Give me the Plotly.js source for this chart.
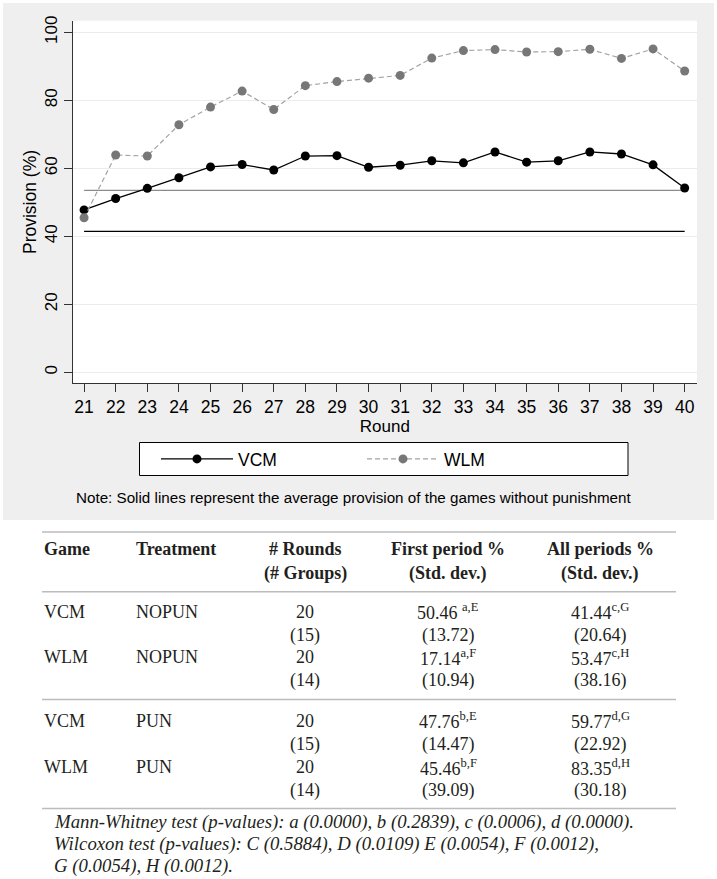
<!DOCTYPE html>
<html>
<head>
<meta charset="utf-8">
<script src="https://cdn.plot.ly/plotly-3.0.1.min.js"></script>
<style>
  html, body { margin: 0; padding: 0; background: #ffffff; }
  #chart { width: 717px; height: 879px; }
</style>
</head>
<body>
<div id="chart"></div>
<script>
// ---------------- data ----------------
var rounds = [21,22,23,24,25,26,27,28,29,30,31,32,33,34,35,36,37,38,39,40];
var vcmPun = [47.76,51.1,54.1,57.2,60.4,61.1,59.5,63.6,63.7,60.3,60.9,62.2,61.6,64.8,61.8,62.2,64.8,64.2,61.0,54.2];
var wlmPun = [45.46,63.9,63.6,72.8,78.0,82.7,77.3,84.3,85.5,86.5,87.3,92.4,94.6,94.9,94.2,94.3,95.0,92.3,95.1,88.6];
var yTicks = [0,20,40,60,80,100];

// table
var tableGame       = ['VCM','WLM','VCM','WLM'];
var tableTreatment  = ['NOPUN','NOPUN','PUN','PUN'];
var tableRounds     = ['20','20','20','20'];
var tableGroups     = ['15','14','15','14'];
var tableFirst      = ['50.46 ','17.14','47.76','45.46'];
var tableFirstSup   = ['a,E','a,F','b,E','b,F'];
var tableFirstSD    = ['13.72','10.94','14.47','39.09'];
var tableAll        = [41.44, 53.47, 59.77, 83.35];
var tableAllSup     = ['c,G','c,H','d,G','d,H'];
var tableAllSD      = ['20.64','38.16','22.92','30.18'];
var tableHeader1    = ['Game','Treatment','# Rounds','First period %','All periods %'];
var tableHeader2    = ['','','(# Groups)','(Std. dev.)','(Std. dev.)'];
var footnotes = [
  'Mann-Whitney test (p-values): a (0.0000), b (0.2839), c (0.0006), d (0.0000).',
  'Wilcoxon test (p-values): C (0.5884), D (0.0109) E (0.0054), F (0.0012),',
  'G (0.0054), H (0.0012).'
];
var noteText = 'Note: Solid lines represent the average provision of the games without punishment';

// ---------------- helpers (pixel -> paper) ----------------
var W = 717, H = 879;
function px(x) { return x / W; }
function py(y) { return 1 - y / H; }

var sans = 'Liberation Sans, Arial, Helvetica, sans-serif';
var serif = 'Liberation Serif, Times New Roman, serif';

// ---------------- traces ----------------
var traces = [
  { x: [rounds[0], rounds[rounds.length-1]], y: [tableAll[0], tableAll[0]], mode: 'lines',
    line: { color: '#000000', width: 1.2 }, showlegend: false, hoverinfo: 'skip' },
  { x: [rounds[0], rounds[rounds.length-1]], y: [tableAll[1], tableAll[1]], mode: 'lines',
    line: { color: '#8c8c8c', width: 1.2 }, showlegend: false, hoverinfo: 'skip' },
  { x: rounds, y: vcmPun, name: 'VCM', mode: 'lines+markers',
    line: { color: '#000000', width: 1.3 }, marker: { color: '#000000', size: 9 } },
  { x: rounds, y: wlmPun, name: 'WLM', mode: 'lines+markers',
    line: { color: '#a3a3a3', width: 1.2, dash: '5px,3px' }, marker: { color: '#777777', size: 9 } }
];

// ---------------- shapes ----------------
var shapes = [
  { type: 'rect', xref: 'paper', yref: 'paper', layer: 'below',
    x0: px(3), x1: px(714), y0: py(520), y1: py(3), fillcolor: '#efefef', line: { width: 0 } },
  { type: 'rect', xref: 'paper', yref: 'paper', layer: 'below',
    x0: px(72.7), x1: px(697), y0: py(383.3), y1: py(20.7), fillcolor: '#ffffff', line: { width: 0 } },
  { type: 'rect', xref: 'paper', yref: 'paper', layer: 'below',
    x0: px(139.5), x1: px(628), y0: py(475.5), y1: py(442.5), fillcolor: '#ffffff',
    line: { color: '#000000', width: 1 } }
];
[532, 591.7, 699.5, 808.5].forEach(function (yy) {
  shapes.push({ type: 'line', xref: 'paper', yref: 'paper', x0: px(42), x1: px(676),
    y0: py(yy), y1: py(yy), line: { color: '#bcbcbc', width: 1.6 } });
});

// ---------------- annotations ----------------
var ann = [];
function addText(text, x, y, anchor, font) {
  ann.push({ text: text, xref: 'paper', yref: 'paper', x: px(x), y: py(y),
    xanchor: anchor, yanchor: 'middle', showarrow: false, font: font });
}
var noteFont = { family: sans, size: 15.2, color: '#000000' };
addText(noteText, 74, 497, 'left', noteFont);

var colX = [42, 134, 305, 448, 600];
var colAnchor = ['left', 'left', 'center', 'center', 'center'];
var hFont = { family: serif, size: 18, color: '#231f20', weight: 'bold' };
var cFont = { family: serif, size: 18, color: '#231f20' };
var fFont = { family: serif, size: 18.8, color: '#231f20' };
for (var c = 0; c < 5; c++) {
  addText('<b>' + tableHeader1[c] + '</b>', colX[c], 549, colAnchor[c], hFont);
  if (tableHeader2[c]) addText('<b>' + tableHeader2[c] + '</b>', colX[c], 573, colAnchor[c], hFont);
}
var rowY = [611.7, 657, 720.7, 767.3];
for (var r = 0; r < 4; r++) {
  var y0 = rowY[r], y1 = rowY[r] + 23.5;
  addText(tableGame[r], colX[0], y0, 'left', cFont);
  addText(tableTreatment[r], colX[1], y0, 'left', cFont);
  addText(tableRounds[r], colX[2], y0, 'center', cFont);
  addText('(' + tableGroups[r] + ')', colX[2], y1, 'center', cFont);
  addText(tableFirst[r] + '<sup>' + tableFirstSup[r] + '</sup>', colX[3], y0, 'center', cFont);
  addText('(' + tableFirstSD[r] + ')', colX[3], y1, 'center', cFont);
  addText(tableAll[r].toFixed(2) + '<sup>' + tableAllSup[r] + '</sup>', colX[4], y0, 'center', cFont);
  addText('(' + tableAllSD[r] + ')', colX[4], y1, 'center', cFont);
}
var fnY = [822, 844, 866];
for (var f = 0; f < footnotes.length; f++) {
  addText('<i>' + footnotes[f] + '</i>', 51.5, fnY[f], 'left', fFont);
}

// ---------------- layout ----------------
var layout = {
  width: W, height: H, autosize: false,
  margin: { l: 0, r: 0, t: 0, b: 0, pad: 0 },
  paper_bgcolor: '#ffffff',
  plot_bgcolor: '#ffffff',
  font: { family: sans, size: 17, color: '#000000' },
  xaxis: {
    domain: [px(72.7), px(697)],
    range: [20.64, 40.39],
    tickmode: 'array', tickvals: rounds, ticktext: rounds.map(String),
    ticks: 'outside', ticklen: 8, tickwidth: 1, tickcolor: '#333333',
    showline: true, linecolor: '#333333', linewidth: 1,
    showgrid: false, zeroline: false,
    tickfont: { family: sans, size: 17.5, color: '#000000' },
    title: { text: 'Round', font: { family: sans, size: 17, color: '#000000' }, standoff: 0 }
  },
  yaxis: {
    domain: [py(383.3), py(20.7)],
    range: [-3.24, 103.4],
    tickmode: 'array', tickvals: yTicks, ticktext: yTicks.map(String),
    tickangle: -90,
    ticks: 'outside', ticklen: 8, tickwidth: 1, tickcolor: '#333333',
    showline: true, linecolor: '#333333', linewidth: 1,
    showgrid: true, gridcolor: '#ececec', gridwidth: 1, zeroline: false,
    tickfont: { family: sans, size: 17, color: '#000000' },
    title: { text: 'Provision (%)', font: { family: sans, size: 17.5, color: '#000000' }, standoff: 0 }
  },
  showlegend: true,
  legend: {
    orientation: 'h', x: px(156), xanchor: 'left', y: py(441), yanchor: 'top',
    bgcolor: 'rgba(0,0,0,0)', borderwidth: 0,
    font: { family: sans, size: 17.5, color: '#000000' },
    itemwidth: 72,
    entrywidth: 119, entrywidthmode: 'pixels'
  },
  shapes: shapes,
  annotations: ann
};

Plotly.newPlot('chart', traces, layout, { displayModeBar: false, staticPlot: true });
</script>
</body>
</html>
